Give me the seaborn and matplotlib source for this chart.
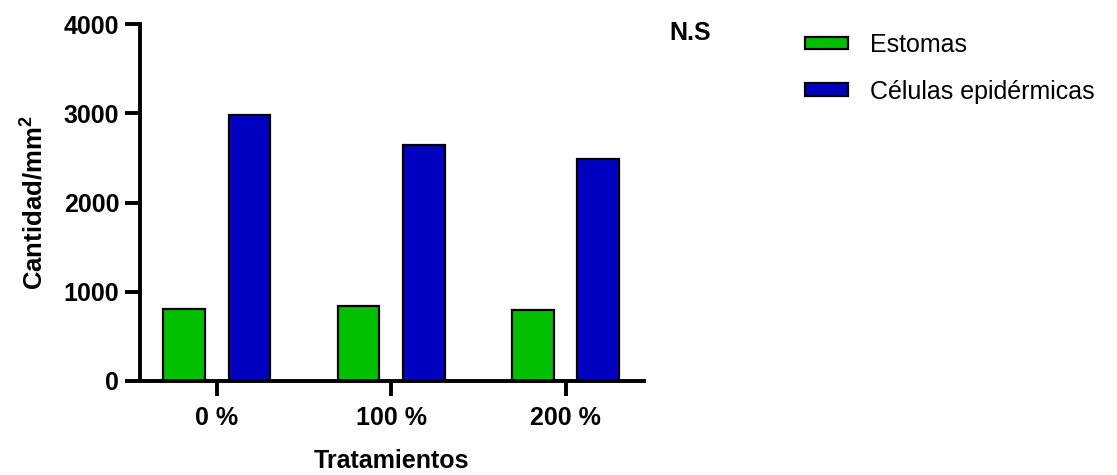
import matplotlib
matplotlib.use("Agg")
import matplotlib.pyplot as plt
import seaborn as sns
import pandas as pd

# Counts per mm² by treatment
tratamientos = ["0 %", "100 %", "200 %"]
estomas = [807, 843, 799]
celulas_epidermicas = [2980, 2641, 2491]
series = ["Estomas", "Células epidérmicas"]
colores = ["#00C000", "#0000C0"]
yticks = [0, 1000, 2000, 3000, 4000]

df = pd.DataFrame({
    "Tratamiento": tratamientos * 2,
    "Serie": [series[0]] * len(tratamientos) + [series[1]] * len(tratamientos),
    "Cantidad": estomas + celulas_epidermicas,
})

sns.set_theme(style="ticks")
plt.rcParams["font.family"] = ["Liberation Sans", "DejaVu Sans"]
plt.rcParams["text.color"] = "black"
plt.rcParams["axes.labelcolor"] = "black"
plt.rcParams["xtick.color"] = "black"
plt.rcParams["ytick.color"] = "black"
plt.rcParams["mathtext.fontset"] = "custom"
plt.rcParams["mathtext.rm"] = "Liberation Sans"
plt.rcParams["mathtext.bf"] = "Liberation Sans:bold"

fig = plt.figure(figsize=(11.17, 4.75), dpi=100)
ax = fig.add_axes([140 / 1117, 1 - 381 / 475, 504 / 1117, 357 / 475])

sns.barplot(
    data=df, x="Tratamiento", y="Cantidad", hue="Serie",
    order=tratamientos, hue_order=series, palette=colores,
    width=0.75, gap=0.36, edgecolor="black", linewidth=1.6,
    saturation=1, errorbar=None, ax=ax,
)

ax.set_xlim(-0.44, 2.45)
ax.set_ylim(0, 4000)
ax.set_yticks(yticks)
ax.set_yticklabels([str(v) for v in yticks])

for side in ("top", "right"):
    ax.spines[side].set_visible(False)
for side in ("left", "bottom"):
    ax.spines[side].set_linewidth(2.8)
    ax.spines[side].set_color("black")

ax.tick_params(axis="both", which="major", direction="out", length=11,
               width=2.8, labelsize=18)
ax.tick_params(axis="y", pad=4)
ax.tick_params(axis="x", pad=7)
for lab in ax.get_xticklabels() + ax.get_yticklabels():
    lab.set_fontweight("bold")
    lab.set_color("black")

ax.set_xlabel("Tratamientos", fontsize=18, fontweight="bold", labelpad=14)
ax.set_ylabel(r"Cantidad/mm$^{\mathbf{2}}$", fontsize=18.5, fontweight="bold", labelpad=12)

ax.text(1.091, 0.975, "N.S", transform=ax.transAxes, ha="center", va="center",
        fontsize=18, fontweight="bold", clip_on=False)

handles, labels = ax.get_legend_handles_labels()
ax.legend(handles, labels, loc="upper left",
          bbox_to_anchor=(805 / 1117, 1 - 33 / 475), bbox_transform=fig.transFigure,
          frameon=False, fontsize=18, handlelength=1.7, handleheight=0.4,
          handletextpad=0.9, labelspacing=0.9, borderpad=0, borderaxespad=0)

fig.savefig("out.png", dpi=100)
